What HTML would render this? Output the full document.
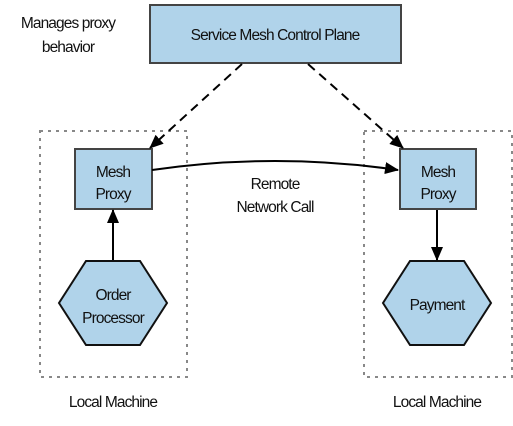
<!DOCTYPE html>
<html><head><style>html,body{margin:0;padding:0;background:#fff}</style></head>
<body>
<svg width="513" height="421" viewBox="0 0 513 421" xmlns="http://www.w3.org/2000/svg" font-family="Liberation Sans, sans-serif" font-size="15.5" fill="#111">
<defs>
<marker id="b" markerWidth="14" markerHeight="12" refX="13" refY="6" orient="auto" markerUnits="userSpaceOnUse"><path d="M0,0 L14,6 L0,12 z" fill="#000"/></marker>
</defs>
<rect x="40" y="131" width="147" height="246" fill="none" stroke="#888" stroke-width="2" stroke-dasharray="3,5"/>
<rect x="364" y="131" width="148" height="246" fill="none" stroke="#888" stroke-width="2" stroke-dasharray="3,5"/>
<rect x="150" y="5" width="251" height="58" fill="#b0d3ea" stroke="#444" stroke-width="2"/>
<rect x="75" y="149" width="77" height="60" fill="#b0d3ea" stroke="#444" stroke-width="2"/>
<rect x="400" y="149" width="76" height="60" fill="#b0d3ea" stroke="#444" stroke-width="2"/>
<polygon points="86,261 140,261 167,303 140,345 86,345 59,303" fill="#b0d3ea" stroke="#111" stroke-width="2"/>
<polygon points="410,261 464,261 491,303 464,345 410,345 383,303" fill="#b0d3ea" stroke="#111" stroke-width="2"/>
<g stroke="#000" stroke-width="2" fill="none">
<line x1="242" y1="64" x2="150" y2="148" stroke-dasharray="9,6" marker-end="url(#b)"/>
<line x1="308" y1="64" x2="403" y2="148" stroke-dasharray="9,6" marker-end="url(#b)"/>
<path d="M152,170 Q275,152 398,170" marker-end="url(#b)"/>
<line x1="113" y1="260" x2="113" y2="210" marker-end="url(#b)"/>
<line x1="437" y1="210" x2="437" y2="260" marker-end="url(#b)"/>
</g>
<g text-anchor="middle" letter-spacing="-0.9">
<text x="275" y="40">Service Mesh Control Plane</text>
<text x="68" y="28">Manages proxy</text>
<text x="68" y="52">behavior</text>
<text x="113" y="177">Mesh</text>
<text x="113" y="199">Proxy</text>
<text x="438" y="177">Mesh</text>
<text x="438" y="199">Proxy</text>
<text x="275" y="189">Remote</text>
<text x="275" y="212">Network Call</text>
<text x="113" y="300">Order</text>
<text x="113" y="323">Processor</text>
<text x="437" y="310">Payment</text>
<text x="113" y="407">Local Machine</text>
<text x="437" y="407">Local Machine</text>
</g>
</svg>
</body></html>
